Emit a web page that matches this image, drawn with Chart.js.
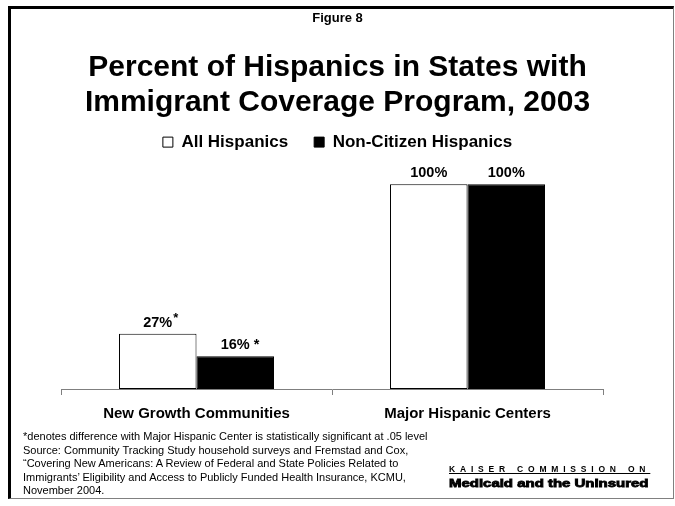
<!DOCTYPE html>
<html>
<head>
<meta charset="utf-8">
<script src="https://cdn.jsdelivr.net/npm/chart.js@4"></script>
<style>
  body { margin: 0; background: #fff; }
  #wrap { position: relative; width: 675px; height: 506px; font-family: Arial, "Liberation Sans", sans-serif; }
  #wrap canvas { position: absolute; left: 0; top: 0; }
  #frame {
    position: absolute; left: 8px; top: 6px; width: 666px; height: 493px; box-sizing: border-box;
    border-left: 3px solid #000; border-top: 3px solid #000;
    border-right: 1px solid #808080; border-bottom: 1px solid #808080;
    pointer-events: none;
  }
  #note {
    position: absolute; left: 23px; top: 430px; font-size: 11px; line-height: 13.5px; color: #000;
    white-space: nowrap;
  }
  #kcmu1 {
    position: absolute; left: 449px; top: 464px; font-size: 8.5px; font-weight: bold; line-height: 10px;
    letter-spacing: 4.8px; color: #000; text-decoration: underline; text-underline-offset: 1px; white-space: nowrap;
  }
  #kcmu2 {
    position: absolute; left: 449px; top: 477px; font-size: 11px; font-weight: bold; line-height: 12px;
    -webkit-text-stroke: 0.8px #000; color: #000; white-space: nowrap;
    transform-origin: left top; transform: scaleX(1.36);
  }
</style>
</head>
<body>
<div id="wrap">
  <canvas id="chart" width="675" height="506"></canvas>
  <div id="frame"></div>
  <div id="note"></div>
  <div id="kcmu1">KAISER COMMISSION ON</div>
  <div id="kcmu2">Medicaid and the Uninsured</div>
</div>
<script>
const figureLabel = "Figure 8";
const titleLines = ["Percent of Hispanics in States with", "Immigrant Coverage Program, 2003"];
const categories = ["New Growth Communities", "Major Hispanic Centers"];
const seriesNames = ["All Hispanics", "Non-Citizen Hispanics"];
const allHispanics = [27, 100];
const nonCitizenHispanics = [16, 100];
// significance markers after the value labels
const allMarks = ["*", ""];
const nonCitizenMarks = [" *", ""];
const noteLines = [
  "*denotes difference with Major Hispanic Center is statistically significant at .05 level",
  "Source: Community Tracking Study household surveys and Fremstad and Cox,",
  "\u201cCovering New Americans: A Review of Federal and State Policies Related to",
  "Immigrants\u2019 Eligibility and Access to Publicly Funded Health Insurance, KCMU,",
  "November 2004."
];

const FONT = "Arial, 'Liberation Sans', sans-serif";

document.getElementById("note").innerHTML = noteLines.join("<br>");

const valueLabels = {
  id: "valueLabels",
  afterDatasetsDraw(chart) {
    const ctx = chart.ctx;
    ctx.save();
    ctx.fillStyle = "#000";
    ctx.textBaseline = "alphabetic";
    chart.data.datasets.forEach((ds, di) => {
      const meta = chart.getDatasetMeta(di);
      meta.data.forEach((bar, i) => {
        const txt = ds.data[i] + "%";
        const y = bar.y - 7;
        ctx.font = "bold 14.5px " + FONT;
        ctx.textAlign = "center";
        ctx.fillText(txt, bar.x, y);
        const mark = ds.marks[i];
        if (!mark) return;
        const w = ctx.measureText(txt).width;
        ctx.textAlign = "left";
        if (mark === "*") {
          ctx.font = "bold 13px " + FONT;
          ctx.fillText(mark, bar.x + w / 2 + 1, y - 5);
        } else {
          ctx.fillText(mark, bar.x + w / 2, y);
        }
      });
    });
    ctx.restore();
  }
};

// invisible side axes only reserve room, so the titles stay centred on the page
const hiddenAxis = (pos, width) => ({
  type: "linear",
  position: pos,
  min: 0,
  max: 111.5,
  grid: { display: false },
  border: { display: false },
  ticks: { display: false },
  afterFit(scale) { scale.width = width; },
});

new Chart(document.getElementById("chart"), {
  type: "bar",
  data: {
    labels: categories,
    datasets: [
      {
        label: seriesNames[0],
        data: allHispanics,
        marks: allMarks,
        backgroundColor: "#fff",
        borderColor: "#000",
        borderWidth: 1,
        borderSkipped: false,
        categoryPercentage: 0.572,
        barPercentage: 1,
      },
      {
        label: seriesNames[1],
        data: nonCitizenHispanics,
        marks: nonCitizenMarks,
        backgroundColor: "#000",
        borderColor: "#000",
        borderWidth: 1,
        borderSkipped: false,
        categoryPercentage: 0.572,
        barPercentage: 1,
      },
    ],
  },
  options: {
    responsive: false,
    animation: false,
    events: [],
    layout: { padding: { left: 0, right: 0, top: 0, bottom: 73 } },
    plugins: {
      tooltip: { enabled: false },
      title: {
        display: true,
        text: figureLabel,
        color: "#000",
        font: { family: FONT, size: 13, weight: "bold" },
        padding: { top: 11, bottom: 0 },
      },
      subtitle: {
        display: true,
        text: titleLines,
        color: "#000",
        font: { family: FONT, size: 30, weight: "bold", lineHeight: 1.167 },
        padding: { top: 24, bottom: -13 },
      },
      legend: {
        display: true,
        position: "top",
        labels: {
          color: "#000",
          font: { family: FONT, size: 17, weight: "bold" },
          boxWidth: 10,
          boxHeight: 10,
          padding: 26,
        },
      },
    },
    scales: {
      x: {
        offset: true,
        grid: { display: true, drawOnChartArea: false, drawTicks: true, tickLength: 6, color: "#7f7f7f" },
        border: { display: true, color: "#7f7f7f", width: 1 },
        ticks: { color: "#000", font: { family: FONT, size: 15, weight: "bold" }, padding: 10, maxRotation: 0 },
      },
      y: hiddenAxis("left", 61),
      yRight: hiddenAxis("right", 72),
    },
  },
  plugins: [valueLabels],
});
</script>
</body>
</html>
